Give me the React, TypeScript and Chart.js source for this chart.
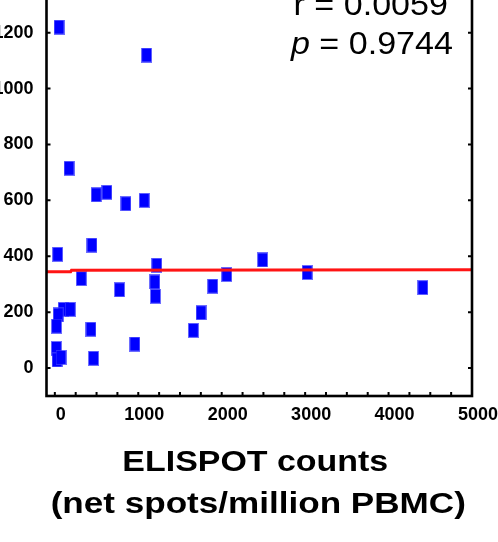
import React, { useEffect, useRef } from 'react';
import { Chart, registerables } from 'chart.js';

Chart.register(...registerables);

// ---- data ----
const elispotCounts = [50, 1100, 170, 496, 624, 852, 1071, 34, 445, 1222, 317, 1198, 1206, 775, 959, 1660, 1752, 1892, 2060, 2490, 3024, 4411, 100, 185, 40, 20, 433, 18, 26, 74, 464];
const responseValues = [1220, 1120, 715, 620, 629, 588, 600, 407, 440, 368, 320, 308, 257, 280, 86, 135, 198, 293, 335, 387, 342, 288, 210, 210, 190, 150, 139, 70, 29, 38, 35];
const fitLineX = [-100, 190, 200, 5000];
const fitLineY = [345, 345, 350, 352];
const xMajorTicks = [0, 1000, 2000, 3000, 4000, 5000];
const xMinorTicks = [250, 500, 750, 1250, 1500, 1750, 2250, 2500, 2750, 3250, 3500, 3750, 4250, 4500, 4750];
const yMajorTicks = [0, 200, 400, 600, 800, 1000, 1200, 1400];
const statRText = 'r = 0.0059';
const statPSymbol = 'p';
const statPText = ' = 0.9744';
const xTitleLines = ['ELISPOT counts', '(net spots/million PBMC)'];

const FONT = '"Liberation Sans", Arial, Helvetica, sans-serif';

function makeMarker(): HTMLCanvasElement {
  const c = document.createElement('canvas');
  c.width = 11;
  c.height = 15;
  const g = c.getContext('2d')!;
  g.fillStyle = 'rgba(60,60,255,0.75)';
  g.fillRect(0, 0, 11, 15);
  g.fillStyle = '#0000ff';
  g.fillRect(1, 1, 9, 13);
  return c;
}

const framePlugin = {
  id: 'framePlugin',
  afterDraw(chart: any) {
    const { ctx, chartArea: a, scales } = chart;
    const xs = scales.x;
    const ys = scales.y;
    ctx.save();
    ctx.strokeStyle = '#000';
    ctx.lineWidth = 2.6;
    ctx.strokeRect(a.left, a.top, a.right - a.left, a.bottom - a.top);
    ctx.lineWidth = 2;
    const tl = 4;
    [...xMajorTicks, ...xMinorTicks].forEach((v) => {
      const px = xs.getPixelForValue(v);
      ctx.beginPath();
      ctx.moveTo(px, a.bottom);
      ctx.lineTo(px, a.bottom - tl);
      ctx.moveTo(px, a.top);
      ctx.lineTo(px, a.top + tl);
      ctx.stroke();
    });
    yMajorTicks.forEach((v) => {
      const py = ys.getPixelForValue(v);
      ctx.beginPath();
      ctx.moveTo(a.left, py);
      ctx.lineTo(a.left + tl, py);
      ctx.moveTo(a.right, py);
      ctx.lineTo(a.right - tl, py);
      ctx.stroke();
    });
    ctx.restore();

    // statistics annotation
    ctx.save();
    ctx.fillStyle = '#000';
    ctx.textBaseline = 'alphabetic';
    ctx.textAlign = 'right';
    ctx.translate(a.right - 24, a.top + 38);
    ctx.scale(1.1, 1);
    ctx.font = `31px ${FONT}`;
    ctx.fillText(statRText, 0, 0);
    ctx.restore();

    ctx.save();
    ctx.fillStyle = '#000';
    ctx.textBaseline = 'alphabetic';
    ctx.textAlign = 'right';
    ctx.translate(a.right - 19, a.top + 77);
    ctx.scale(1.1, 1);
    ctx.font = `31px ${FONT}`;
    const w = ctx.measureText(statPText).width;
    ctx.fillText(statPText, 0, 0);
    ctx.font = `italic 31px ${FONT}`;
    ctx.fillText(statPSymbol, -w, 0);
    ctx.restore();

    // x axis title
    const cx = (a.left + a.right) / 2;
    xTitleLines.forEach((line, i) => {
      ctx.save();
      ctx.fillStyle = '#000';
      ctx.textAlign = 'center';
      ctx.textBaseline = 'alphabetic';
      ctx.translate(cx - (i === 0 ? 4 : 1), a.bottom + 75 + i * 42);
      ctx.scale(i === 0 ? 1.17 : 1.21, 1);
      ctx.font = `bold 29px ${FONT}`;
      ctx.fillText(line, 0, 0);
      ctx.restore();
    });
  },
};

export default function App() {
  const ref = useRef<HTMLCanvasElement | null>(null);
  useEffect(() => {
    if (!ref.current) return;
    const marker = makeMarker();
    const chart = new Chart(ref.current, {
      type: 'scatter',
      data: {
        datasets: [
          {
            type: 'line',
            data: fitLineX.map((x, i) => ({ x, y: fitLineY[i] })),
            borderColor: 'rgb(255,20,20)',
            borderWidth: 3,
            pointRadius: 0,
            fill: false,
            tension: 0,
          } as any,
          {
            data: elispotCounts.map((x, i) => ({ x, y: responseValues[i] })),
            pointStyle: marker,
            pointRadius: 6,
            backgroundColor: '#0000ff',
            borderColor: '#0000ff',
          },
        ],
      },
      options: {
        responsive: false,
        animation: false,
        layout: { padding: { top: 0, right: 30, left: 0, bottom: 0 } },
        plugins: { legend: { display: false }, tooltip: { enabled: false } },
        scales: {
          x: {
            type: 'linear',
            min: -100,
            max: 5000,
            afterBuildTicks: (s: any) => {
              s.ticks = xMajorTicks.map((v) => ({ value: v }));
            },
            afterFit: (s: any) => {
              s.height = 146;
            },
            grid: { display: false, drawTicks: false },
            border: { display: false },
            ticks: {
              autoSkip: false,
              maxRotation: 0,
              padding: 8,
              labelOffset: 6,
              color: '#000',
              font: { family: FONT, size: 18, weight: 'bold' },
              callback: (v: any) => String(v),
            },
          },
          y: {
            type: 'linear',
            min: -100,
            max: 1400,
            afterBuildTicks: (s: any) => {
              s.ticks = yMajorTicks.map((v) => ({ value: v }));
            },
            afterFit: (s: any) => {
              s.width = 46.5;
            },
            grid: { display: false, drawTicks: false },
            border: { display: false },
            ticks: {
              autoSkip: false,
              padding: 13,
              color: '#000',
              font: { family: FONT, size: 18, weight: 'bold' },
              callback: (v: any) => String(v),
            },
          },
        },
      },
      plugins: [framePlugin],
    });
    return () => chart.destroy();
  }, []);

  return (
    <div
      style={{
        position: 'fixed',
        left: 0,
        top: 0,
        width: 498,
        height: 542,
        overflow: 'hidden',
        background: '#fff',
      }}
    >
      <canvas
        ref={ref}
        width={502}
        height={589}
        style={{ position: 'absolute', left: 0, top: -47, width: 502, height: 589 }}
      />
    </div>
  );
}
